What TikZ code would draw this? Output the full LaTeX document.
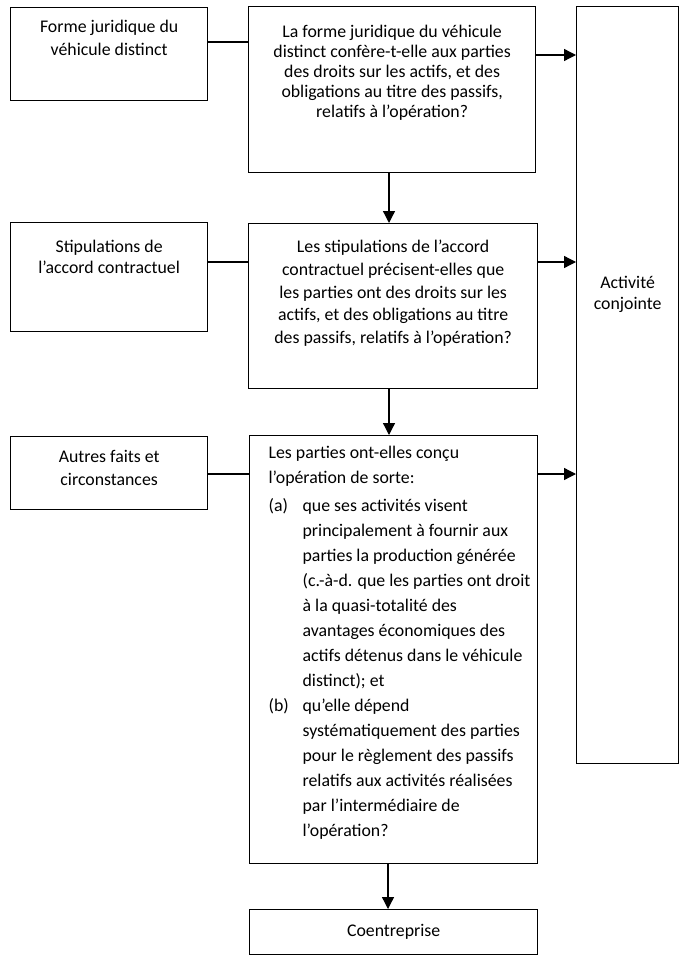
\documentclass[tikz,border=0pt]{standalone}
\usepackage{fontspec}
\setmainfont{Carlito}
\usetikzlibrary{arrows.meta,calc}
\newcommand{\boxpar}[3]{\parbox[t][#2][t]{#1}{\rule{0pt}{13pt}#3}}

\begin{document}
\begin{tikzpicture}[x=1pt, y=-1pt,
  box/.style={draw, line width=1.3pt, anchor=north west, inner xsep=0pt},
  link/.style={line width=1.3pt},
  arr/.style={link, -{Triangle[length=12pt,width=12pt]}}]
  \useasboundingbox (0,0) rectangle (687,960);

  % Left column: what is looked at
  \node[box, inner ysep=12pt, font=\fontsize{17.8}{23}\selectfont] (forme) at (10,7)
    {\boxpar{197pt}{69pt}{\centering Forme juridique du\\ véhicule distinct}};
  \node[box, inner ysep=17pt, font=\fontsize{17.8}{21}\selectfont] (stip) at (10,222)
    {\boxpar{197pt}{75pt}{\centering Stipulations de\\ l’accord contractuel}};
  \node[box, inner ysep=13pt, font=\fontsize{17.8}{23}\selectfont] (autres) at (10,436)
    {\boxpar{197pt}{47pt}{\centering Autres faits et\\ circonstances}};

  % Middle column: the questions
  \node[box, inner ysep=18pt, font=\fontsize{17.8}{20}\selectfont] (q1) at (248,6)
    {\boxpar{287pt}{130pt}{\centering La forme juridique du véhicule\\ distinct confère-t-elle aux parties\\ des droits sur les actifs, et des\\ obligations au titre des passifs,\\ relatifs à l’opération?}};
  \node[box, inner ysep=16pt, font=\fontsize{17.8}{22.75}\selectfont] (q2) at (248,223)
    {\boxpar{289pt}{133pt}{\centering Les stipulations de l’accord\\ contractuel précisent-elles que\\ les parties ont des droits sur les\\ actifs, et des obligations au titre\\ des passifs, relatifs à l’opération?}};
  \node[box, inner ysep=10pt, font=\fontsize{17.8}{25}\selectfont] (q3) at (249,435)
    {\boxpar{288pt}{408pt}{\raggedright\leftskip=19pt Les parties ont-elles conçu\\ l’opération de sorte:\par\vspace{3pt}
      \leftskip=53pt \leavevmode\llap{\makebox[34pt][l]{(a)}}que ses activités visent\\ principalement à fournir aux\\ parties la production générée\\ (c.-à-d. que les parties ont droit\\ à la quasi-totalité des\\ avantages économiques des\\ actifs détenus dans le véhicule\\ distinct); et\\
      \leavevmode\llap{\makebox[34pt][l]{(b)}}qu’elle dépend\\ systématiquement des parties\\ pour le règlement des passifs\\ relatifs aux activités réalisées\\ par l’intermédiaire de\\ l’opération?}};
  \node[box, inner sep=0pt, minimum width=288pt, minimum height=45pt, font=\fontsize{17.8}{21}\selectfont] (coent) at (249,909) {Coentreprise};

  % Right column: outcome
  \node[box, inner ysep=269pt, font=\fontsize{17.8}{21}\selectfont] (activ) at (576,6)
    {\boxpar{102pt}{219pt}{\centering Activité\\ conjointe}};

  % Links from the left boxes
  \draw[link] ([yshift=-35pt]forme.north east) coordinate (f1) -- (f1 -| q1.west);
  \draw[link] ([yshift=-40pt]stip.north east) coordinate (s1) -- (s1 -| q2.west);
  \draw[link] ([yshift=-38pt]autres.north east) coordinate (a1) -- (a1 -| q3.west);

  % Arrows to the joint activity
  \draw[arr] ([yshift=-49pt]q1.north east) coordinate (r1) -- (r1 -| activ.west);
  \draw[arr] ([yshift=-39pt]q2.north east) coordinate (r2) -- (r2 -| activ.west);
  \draw[arr] ([yshift=-39pt]q3.north east) coordinate (r3) -- (r3 -| activ.west);

  % Arrows down the questions
  \draw[arr] ([xshift=141pt]q1.south west) coordinate (d1) -- (d1 |- q2.north);
  \draw[arr] ([xshift=141pt]q2.south west) coordinate (d2) -- (d2 |- q3.north);
  \draw[arr] ([xshift=139pt]q3.south west) coordinate (d3) -- (d3 |- coent.north);
\end{tikzpicture}
\end{document}
